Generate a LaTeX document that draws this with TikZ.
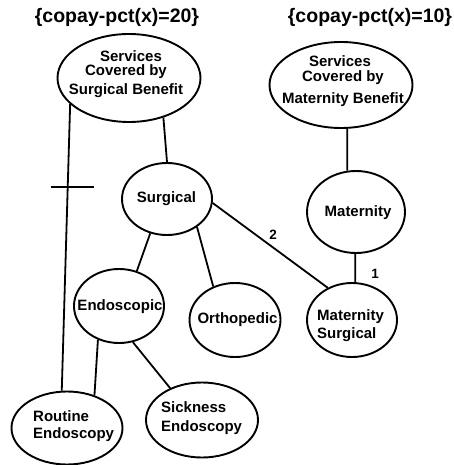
\documentclass[tikz,border=0pt]{standalone}
\usepackage{fontspec}
\setmainfont{Liberation Sans}
\usetikzlibrary{shapes.geometric,calc}
\begin{document}
\begin{tikzpicture}[x=1pt,y=-1pt,
  ell/.style={draw, ellipse, line width=1.9pt, inner sep=0pt},
  con/.style={line width=1.8pt},
  txt/.style={font=\bfseries\fontsize{15}{16}\selectfont, inner sep=0pt, text height=11pt, text depth=3pt},
  ttl/.style={font=\bfseries\fontsize{19.5}{21}\selectfont, inner sep=0pt},
  lbl/.style={font=\bfseries\fontsize{13.5}{14}\selectfont, inner sep=0pt}]
\useasboundingbox (0,0) rectangle (454,465);
% titles
\node[ttl] (title1) at (117,17) {\{copay-pct(x)=20\}};
\node[ttl] (title2) at (370,17) {\{copay-pct(x)=10\}};
% ellipses
\node[ell, minimum width=143pt, minimum height=88pt] (sb) at (129,78) {};
\node[ell, minimum width=143pt, minimum height=86pt] (mb) at (341,85) {};
\node[ell, minimum width=90pt, minimum height=72pt] (surg) at (167,199) {};
\node[ell, minimum width=98pt, minimum height=82pt] (mat) at (356,212) {};
\node[ell, minimum width=90pt, minimum height=74pt] (endo) at (119,306) {};
\node[ell, minimum width=91pt, minimum height=74pt] (ortho) at (235,320) {};
\node[ell, minimum width=90pt, minimum height=74pt] (ms) at (352,320) {};
\node[ell, minimum width=111pt, minimum height=73pt] (re) at (67,428) {};
\node[ell, minimum width=112pt, minimum height=75pt] (se) at (202,420) {};
% texts
\node[txt] (tsb1) at (131,58) {Services};
\node[txt] (tsb2) at (126,72) {Covered by};
\node[txt] (tsb3) at (126,91) {Surgical Benefit};
\node[txt] (tmb1) at (340,63) {Services};
\node[txt] (tmb2) at (343,78) {Covered by};
\node[txt] (tmb3) at (343,100) {Maternity Benefit};
\node[txt] (tsurg) at (166.5,198) {Surgical};
\node[txt] (tmat) at (358,212) {Maternity};
\node[txt] (tendo) at (120,306) {Endoscopic};
\node[txt] (tortho) at (237.5,319) {Orthopedic};
\node[txt, anchor=west] (tms1) at (317,316) {Maternity};
\node[txt, anchor=west] (tms2) at (317,334) {Surgical};
\node[txt, anchor=west] (tre1) at (33,417) {Routine};
\node[txt, anchor=west] (tre2) at (33,434) {Endoscopy};
\node[txt, anchor=west] (tse1) at (161,408) {Sickness};
\node[txt, anchor=west] (tse2) at (161,427) {Endoscopy};
% connectors
\draw[con] (sb.204) -- coordinate[pos=0.29] (tk) (re.98);
\draw[con] ([xshift=-17pt]tk) -- ([xshift=26pt]tk);
\draw[con] (sb.311) -- (surg.90);
\draw[con] (surg.244) -- (endo.63);
\draw[con] (surg.317) -- (ortho.123);
\draw[con] (surg.355) -- (ms.127);
\draw[con] (mb.278) -- (mat.102.6);
\draw[con] (mat.269) -- (ms.85);
\draw[con] (endo.238.5) -- (re.50);
\draw[con] (endo.291) -- (se.135);
% labels
\node[lbl] (l2) at (273,235) {2};
\node[lbl] (l1) at (375,274) {1};
\end{tikzpicture}
\end{document}
